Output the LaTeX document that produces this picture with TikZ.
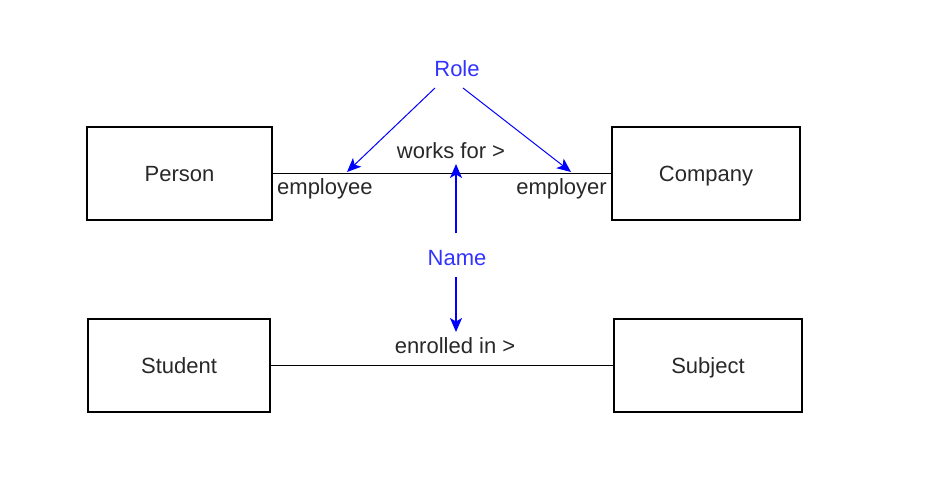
\documentclass[tikz,border=0pt]{standalone}
\usepackage{fontspec}
\setmainfont{Liberation Sans}
\usetikzlibrary{arrows.meta}
\definecolor{lblue}{RGB}{51,51,255}
\definecolor{txt}{RGB}{40,40,40}
\tikzset{
  entity/.style={draw=black, line width=1.4pt, minimum height=93pt, inner sep=0pt, text height=16pt, text depth=0pt, text=txt, font=\fontsize{22}{26}\selectfont},
  lbl/.style={inner sep=0pt, text height=16pt, text depth=0pt, text=txt, font=\fontsize{22}{26}\selectfont},
  blbl/.style={inner sep=0pt, text height=16pt, text depth=0pt, text=lblue, font=\fontsize{22}{26}\selectfont},
  assoc/.style={draw=black, line width=1.5pt},
  barrow/.style={draw=blue, line width=1pt, -{Stealth[length=14pt,width=12pt,inset=3.5pt]}},
  barrowthick/.style={barrow, line width=1.5pt},
}
\begin{document}
\begin{tikzpicture}[x=1pt,y=-1pt]
\useasboundingbox (0,0) rectangle (934,490);
\node[entity, minimum width=185pt] (person) at (179.5,173.5) {Person};
\node[entity, minimum width=188pt] (company) at (706,173.5) {Company};
\node[entity, minimum width=182pt] (student) at (179,365.5) {Student};
\node[entity, minimum width=188pt] (subject) at (708,365.5) {Subject};
\draw[assoc] (person.east) -- (company.west);
\draw[assoc] (student.east) -- (subject.west);
\node[lbl] (worksfor) at (451,150.5) {works for >};
\node[lbl, anchor=west] (employee) at (277,186) {employee};
\node[lbl, anchor=east] (employer) at (607,186) {employer};
\node[lbl] (enrolled) at (455,345.5) {enrolled in >};
\node[blbl] (role) at (457,68) {Role};
\node[blbl] (name) at (457,257.5) {Name};
\coordinate (r1) at (435,88);
\coordinate (r2) at (463,88);
\coordinate (e1) at (347,172);
\coordinate (e2) at (571,172);
\coordinate (n1) at (456,233);
\coordinate (n2) at (456,164);
\coordinate (n3) at (456,277);
\coordinate (n4) at (456,332);
\draw[barrow] (r1) -- (e1);
\draw[barrow] (r2) -- (e2);
\draw[barrowthick] (n1) -- (n2);
\draw[barrowthick] (n3) -- (n4);
\end{tikzpicture}
\end{document}
